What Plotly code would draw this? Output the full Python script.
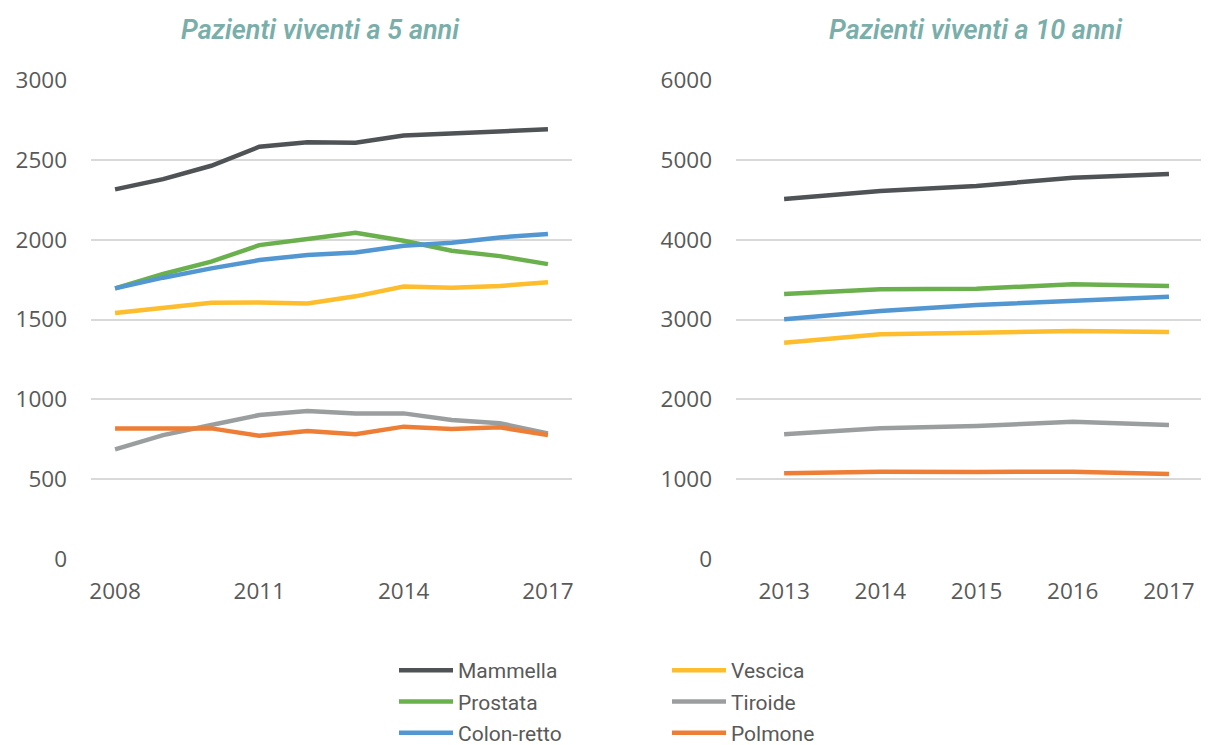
import plotly.graph_objects as go

# ---- data ----
years_5 = [2008, 2009, 2010, 2011, 2012, 2013, 2014, 2015, 2016, 2017]
years_10 = [2013, 2014, 2015, 2016, 2017]

series_names = ["Mammella", "Prostata", "Colon-retto", "Vescica", "Tiroide", "Polmone"]

mammella_5 = [2315, 2379, 2463, 2582, 2610, 2607, 2652, 2664, 2676, 2691]
prostata_5 = [1695, 1785, 1862, 1966, 2004, 2043, 1993, 1931, 1897, 1847]
colon_5 = [1695, 1762, 1820, 1872, 1904, 1920, 1962, 1981, 2014, 2035]
vescica_5 = [1540, 1570, 1605, 1607, 1600, 1645, 1707, 1699, 1710, 1733]
tiroide_5 = [687, 776, 839, 902, 927, 912, 912, 870, 850, 787]
polmone_5 = [818, 818, 818, 772, 801, 781, 829, 814, 825, 776]

mammella_10 = [4510, 4610, 4672, 4777, 4823]
prostata_10 = [3320, 3378, 3386, 3441, 3420]
colon_10 = [3002, 3107, 3182, 3236, 3286]
vescica_10 = [2710, 2814, 2835, 2856, 2844]
tiroide_10 = [1562, 1637, 1666, 1720, 1679]
polmone_10 = [1073, 1094, 1090, 1094, 1065]

ticks_5 = [2008, 2011, 2014, 2017]
ticks_10 = [2013, 2014, 2015, 2016, 2017]

titles = ["Pazienti viventi a 5 anni", "Pazienti viventi a 10 anni"]

colors = {
    "Mammella": "#4f5356",
    "Prostata": "#6ab04c",
    "Colon-retto": "#5297d2",
    "Vescica": "#fdbd2c",
    "Tiroide": "#9b9e9f",
    "Polmone": "#ee7e36",
}
legend_of = {
    "Mammella": "legend", "Prostata": "legend", "Colon-retto": "legend",
    "Vescica": "legend2", "Tiroide": "legend2", "Polmone": "legend2",
}

data5 = [mammella_5, prostata_5, colon_5, vescica_5, tiroide_5, polmone_5]
data10 = [mammella_10, prostata_10, colon_10, vescica_10, tiroide_10, polmone_10]

# the page body has an 8px margin, so the figure is drawn 8px in from the window's corner
OFF = 8
W, H = 1209 - OFF, 745 - OFF


def px(x):
    return (x - OFF) / W


def py(y):
    return (H - (y - OFF)) / H


fig = go.Figure()

for name, ys in zip(series_names, data5):
    fig.add_trace(go.Scatter(
        x=years_5, y=ys, mode="lines", name=name,
        line=dict(color=colors[name], width=4.5),
        xaxis="x", yaxis="y", legend=legend_of[name], legendgroup=name,
        showlegend=True,
    ))
for name, ys in zip(series_names, data10):
    fig.add_trace(go.Scatter(
        x=years_10, y=ys, mode="lines", name=name,
        line=dict(color=colors[name], width=4.5),
        xaxis="x2", yaxis="y2", legendgroup=name, showlegend=False,
    ))

tick_font = dict(family="Open Sans", size=22.5, color="#595959")
grid_color = "#d9d9d9"

common_y = dict(
    showgrid=True, gridcolor=grid_color, gridwidth=2, zeroline=False,
    showline=False, ticks="", tickfont=tick_font, ticklabelstandoff=23,
    domain=[py(559), py(80)], fixedrange=True, automargin=False,
)
common_x = dict(
    showgrid=False, zeroline=False, showline=False, ticks="",
    tickfont=tick_font, ticklabelstandoff=16, fixedrange=True, automargin=False,
)

legend_font = dict(family="Roboto", size=21, color="#595959")

fig.update_layout(
    width=W, height=H,
    margin=dict(l=0, r=0, t=0, b=0, autoexpand=False),
    paper_bgcolor="white", plot_bgcolor="white",
    xaxis=dict(common_x, anchor="y", domain=[px(91), px(572)], range=[2007.5, 2017.5],
               tickmode="array", tickvals=ticks_5, ticktext=[str(t) for t in ticks_5]),
    yaxis=dict(common_y, anchor="x", range=[0, 3000], tickmode="linear", tick0=0, dtick=500),
    xaxis2=dict(common_x, anchor="y2", domain=[px(736), 1.0], range=[2012.5, 2017.416],
                tickmode="array", tickvals=ticks_10, ticktext=[str(t) for t in ticks_10]),
    yaxis2=dict(common_y, anchor="x2", range=[0, 6000], tickmode="linear", tick0=0, dtick=1000),
    legend=dict(x=px(394), y=py(650), xanchor="left", yanchor="top",
                orientation="v", font=legend_font,
                bgcolor="rgba(0,0,0,0)", itemwidth=54, tracegroupgap=1),
    legend2=dict(x=px(667), y=py(650), xanchor="left", yanchor="top",
                 orientation="v", font=legend_font,
                 bgcolor="rgba(0,0,0,0)", itemwidth=54, tracegroupgap=1),
    showlegend=True,
)

title_font = dict(family="Roboto", size=27, color="#7aaeaa", style="italic", weight=600)
fig.add_annotation(text=titles[0], x=px(320), y=py(30), xref="paper", yref="paper",
                   showarrow=False, font=title_font, xanchor="center", yanchor="middle")
fig.add_annotation(text=titles[1], x=px(976), y=py(30), xref="paper", yref="paper",
                   showarrow=False, font=title_font, xanchor="center", yanchor="middle")

fig.write_html("out.html")
